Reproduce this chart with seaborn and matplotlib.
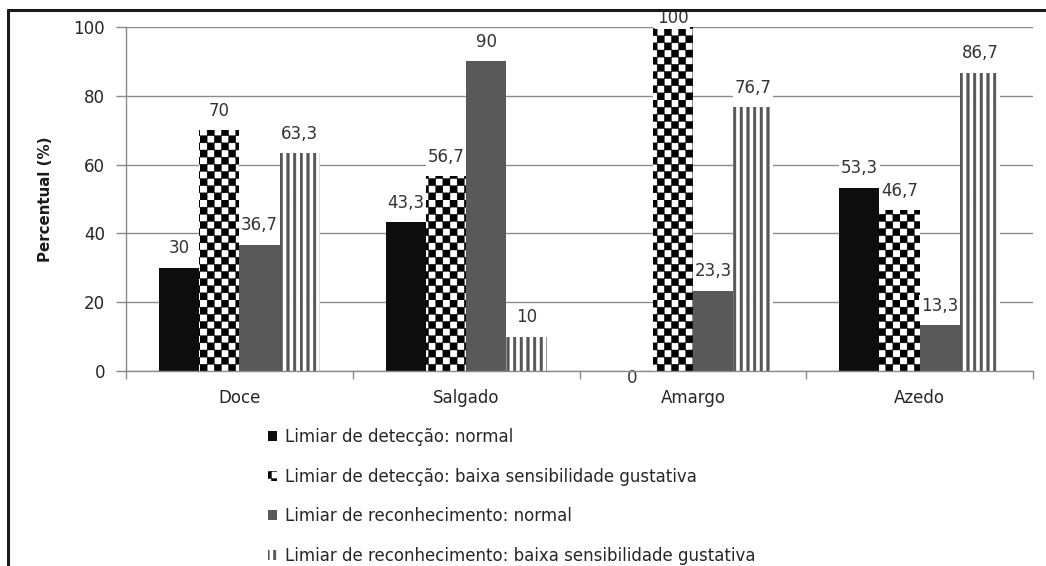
import warnings
import numpy as np
import pandas as pd
import matplotlib
matplotlib.use("Agg")
import matplotlib.pyplot as plt
from matplotlib import hatch as mhatch
from matplotlib.path import Path
from matplotlib.lines import Line2D
import seaborn as sns

warnings.filterwarnings("ignore")

# ---- data ---------------------------------------------------------------
sabores = ["Doce", "Salgado", "Amargo", "Azedo"]
series = [
    "Limiar de detecção: normal",
    "Limiar de detecção: baixa sensibilidade gustativa",
    "Limiar de reconhecimento: normal",
    "Limiar de reconhecimento: baixa sensibilidade gustativa",
]
deteccao_normal = [30, 43.3, 0, 53.3]
deteccao_baixa = [70, 56.7, 100, 46.7]
reconhecimento_normal = [36.7, 90, 23.3, 13.3]
reconhecimento_baixa = [63.3, 10, 76.7, 86.7]
yticks = [0, 20, 40, 60, 80, 100]


# ---- custom fill patterns (checkerboard and dense vertical bars) --------
class CheckerHatch(mhatch.HatchPatternBase):
    """Filled checkerboard squares, triggered by the 'c' hatch character."""

    def __init__(self, hatch, density):
        self.n = 14 if "c" in hatch else 0
        self.cells = [(i, j) for i in range(self.n) for j in range(self.n)
                      if (i + j) % 2 == 0]
        self.num_vertices = len(self.cells) * 5

    def set_vertices_and_codes(self, vertices, codes):
        s = 1.0 / self.n
        sq = np.array([[0, 0], [1, 0], [1, 1], [0, 1], [0, 0]], float) * s
        for k, (i, j) in enumerate(self.cells):
            vertices[5 * k:5 * k + 5] = sq + [i * s, j * s]
            codes[5 * k] = Path.MOVETO
            codes[5 * k + 1:5 * k + 4] = Path.LINETO
            codes[5 * k + 4] = Path.CLOSEPOLY


class BarsHatch(mhatch.HatchPatternBase):
    """Filled vertical bars, triggered by the 'v' hatch character."""

    def __init__(self, hatch, density):
        self.n = 15 if "v" in hatch else 0
        self.w = 0.026
        self.num_vertices = self.n * 5

    def set_vertices_and_codes(self, vertices, codes):
        s = 1.0 / self.n
        for k in range(self.n):
            x0 = k * s
            vertices[5 * k:5 * k + 5] = [[x0, 0], [x0 + self.w, 0],
                                         [x0 + self.w, 1], [x0, 1], [x0, 0]]
            codes[5 * k] = Path.MOVETO
            codes[5 * k + 1:5 * k + 4] = Path.LINETO
            codes[5 * k + 4] = Path.CLOSEPOLY


mhatch._hatch_types.append(CheckerHatch)
mhatch._hatch_types.append(BarsHatch)

# ---- style ----------------------------------------------------------------
sns.set_theme(style="white")
plt.rcParams["font.family"] = ["DejaVu Sans"]
plt.rcParams["hatch.linewidth"] = 0.3
text_color = "#262626"
grid_color = "#8a8a8a"
fs = 12

df = pd.DataFrame({
    "Sabor": sabores * 4,
    "Limiar": np.repeat(series, len(sabores)),
    "Percentual": deteccao_normal + deteccao_baixa
    + reconhecimento_normal + reconhecimento_baixa,
})

fig = plt.figure(figsize=(10.46, 5.66), dpi=100)
ax = fig.add_axes([0.1205, 0.3445, 0.8671, 0.6078])

sns.barplot(data=df, x="Sabor", y="Percentual", hue="Limiar",
            order=sabores, hue_order=series, width=0.71, saturation=1,
            palette=["#0d0d0d", "#ffffff", "#595959", "#ffffff"],
            legend=False, ax=ax, zorder=3)

styles = [
    dict(facecolor="#0d0d0d", hatch=None, edgecolor="#0d0d0d"),
    dict(facecolor="#ffffff", hatch="c", edgecolor="#000000"),
    dict(facecolor="#595959", hatch=None, edgecolor="#595959"),
    dict(facecolor="#ffffff", hatch="v", edgecolor="#555555"),
]
for cont, st in zip(ax.containers, styles):
    for bar in cont:
        bar.set_facecolor(st["facecolor"])
        bar.set_edgecolor(st["edgecolor"])
        bar.set_hatch(st["hatch"])
        bar.set_linewidth(0)

# value labels above each bar
for cont in ax.containers:
    for bar in cont:
        v = bar.get_height()
        txt = f"{v:g}".replace(".", ",")
        if v >= 100:
            off = 6.5
        elif v <= 0:
            off = -5
        else:
            off = 14
        ax.annotate(txt, (bar.get_x() + bar.get_width() / 2, v),
                    xytext=(0, off), textcoords="offset points",
                    ha="center", va="center", fontsize=fs, color="#333333",
                    bbox=dict(boxstyle="square,pad=0.1", fc="white", ec="none"),
                    zorder=4, annotation_clip=False)

# axes
ax.set_ylim(0, 100)
ax.set_xlim(-0.5, len(sabores) - 0.5)
ax.set_yticks(yticks)
ax.set_yticklabels([str(t) for t in yticks])
ax.yaxis.grid(True, color=grid_color, linewidth=1, zorder=0)
ax.set_axisbelow(True)
for side in ["top", "right"]:
    ax.spines[side].set_visible(False)
for side in ["left", "bottom"]:
    ax.spines[side].set_color(grid_color)
    ax.spines[side].set_linewidth(1)
    ax.spines[side].set_zorder(5)

ax.tick_params(axis="y", which="major", length=7, width=1, color=grid_color,
               pad=8, labelsize=fs, labelcolor=text_color, left=True)
ax.tick_params(axis="x", which="major", length=0, pad=13,
               labelsize=fs, labelcolor=text_color)
ax.set_xticks(np.arange(-0.5, len(sabores)), minor=True)
ax.tick_params(axis="x", which="minor", length=6, width=1, color=grid_color,
               bottom=True)

ax.set_xlabel("")
ax.set_ylabel("Percentual (%)", fontsize=10.8, fontweight="bold",
              color="#1a1a1a")
ax.yaxis.set_label_coords(-0.080, 0.5)

# legend below the plot, one entry per row
handles = [cont[0] for cont in ax.containers]
leg = fig.legend(handles, series, loc="upper left",
                 bbox_to_anchor=(268 / 1046, 1 - 428 / 566),
                 bbox_transform=fig.transFigure, frameon=False, fontsize=fs,
                 handlelength=0.55, handleheight=0.55, handletextpad=0.45,
                 labelspacing=1.3, borderpad=0, borderaxespad=0)
for t in leg.get_texts():
    t.set_color(text_color)

# outer frame lines
fig.add_artist(Line2D([7.5 / 1046, 7.5 / 1046], [0, 1 - 10 / 566],
                      transform=fig.transFigure, color="#1a1a1a", linewidth=2.2))
fig.add_artist(Line2D([7.5 / 1046, 1], [1 - 10 / 566, 1 - 10 / 566],
                      transform=fig.transFigure, color="#1a1a1a", linewidth=2.2))

fig.savefig("out.png", dpi=100, facecolor="white")
